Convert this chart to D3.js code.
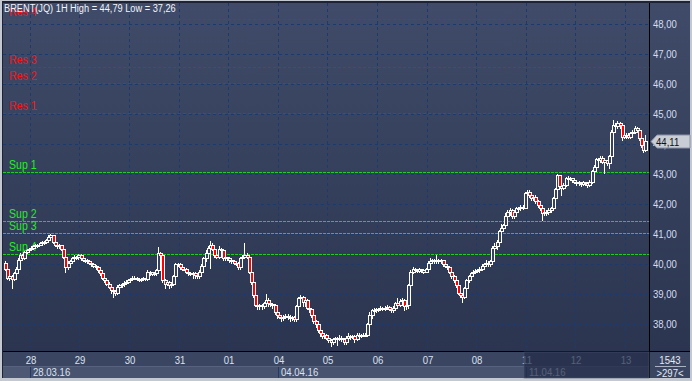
<!DOCTYPE html>
<html><head><meta charset="utf-8">
<script src="https://cdn.jsdelivr.net/npm/d3@7"></script>
<style>html,body{margin:0;padding:0;background:#c4c8d0;overflow:hidden}svg{display:block}</style>
</head><body><svg id="c" width="692" height="381"></svg>
<script>
// ---------------- DATA ----------------
const titleText = "BRENT(JQ) 1H High = 44,79 Low = 37,26";
const dayLabels = ["24","28","29","30","31","01","04","05","06","07","08","11","12","13"];
const barsPerDay = [12,23,23,23,23,23,23,23,23,23,23,23,23,10];
const dateMarks = [{day:"28", text:"28.03.16"}, {day:"04", text:"04.04.16"}, {day:"11", text:"11.04.16"}];
const priceTicks = [38,39,40,41,42,43,44,45,46,47,48];
const resNames = ["Res 1","Res 2","Res 3","Res 4"];
const resValues = [45.02, 46.03, 46.57, 48.18];
const supNames = ["Sup 1","Sup 2","Sup 3","Sup 4"];
const supValues = [43.08, 41.43, 41.03, 40.32];
const lastPrice = 44.11;
const barCountText = "1543";
const visibleText = ">297<";
const firstOpen = 40.05;
const closes = [
 39.85,39.55,39.6,39.5,39.7,39.85,40.15,40.3,40.2,40.4,40.45,40.5,
 40.55,40.6,40.62,40.65,40.7,40.72,40.75,40.8,40.9,40.95,40.75,40.65,40.6,40.62,40.5,40.25,39.9,40.05,40.1,40.2,40.25,40.22,40.3,
 40.2,40.15,40.12,40.1,40.05,40.0,39.95,39.9,39.8,39.7,39.55,39.45,39.35,39.25,39.15,39.1,39.05,39.25,39.3,39.32,39.38,39.4,39.45,
 39.5,39.55,39.55,39.5,39.48,39.5,39.52,39.5,39.75,39.72,39.68,39.7,39.8,40.35,40.3,39.45,39.35,39.4,39.3,39.35,39.6,40.0,40.0,
 39.9,39.85,39.85,39.75,39.7,39.68,39.7,39.65,39.6,39.75,39.95,40.2,40.35,40.55,40.65,40.5,40.3,40.25,40.5,40.45,40.2,40.22,40.2,
 40.12,40.1,40.05,40.05,39.9,40.2,40.25,40.3,40.25,39.75,39.4,38.95,38.65,38.6,38.62,38.6,38.7,38.8,38.7,38.68,38.65,38.4,38.3,
 38.25,38.22,38.25,38.28,38.25,38.2,38.22,38.18,38.6,38.85,38.9,38.75,38.8,38.55,38.5,38.3,38.1,38.0,37.8,37.7,37.6,37.62,37.55,
 37.45,37.4,37.5,37.52,37.5,37.55,37.5,37.4,37.55,37.6,37.58,37.6,37.5,37.62,37.65,37.63,37.65,37.65,38.0,38.3,38.45,38.45,38.5,
 38.5,38.55,38.52,38.55,38.58,38.5,38.45,38.55,38.7,38.65,38.78,38.8,38.6,38.65,39.3,39.75,39.85,39.8,39.78,39.82,39.8,39.75,39.85,
 40.05,40.1,40.12,40.1,40.15,40.1,40.12,40.0,39.95,39.9,39.75,39.6,39.45,39.3,39.05,38.95,38.9,39.2,39.45,39.6,39.7,39.75,39.78,
 39.8,39.85,39.95,40.0,40.05,40.0,40.1,40.55,40.6,40.75,41.1,41.2,41.3,41.6,41.75,41.8,41.6,41.75,41.85,41.85,41.9,41.88,42.35,
 42.4,42.3,42.2,42.25,42.1,41.95,41.85,41.7,41.75,41.72,41.8,41.85,42.2,42.5,42.95,42.6,42.55,42.65,42.85,42.88,42.85,42.8,42.75,
 42.72,42.7,42.68,42.72,42.7,42.65,42.75,43.1,43.25,43.5,43.45,43.55,43.4,43.45,43.35,43.6,44.4,44.65,44.6,44.7,44.65,44.25,44.3,
 44.3,44.25,44.35,44.4,44.55,44.45,44.2,43.95,43.8,44.11
];
const highs = [
 40.1,39.9,39.65,39.65,39.75,39.9,40.2,40.35,40.32,40.42,40.5,40.55,
 40.6,40.64,40.66,40.68,40.74,40.76,40.78,40.85,40.95,41.0,40.98,40.78,40.68,40.66,40.64,40.52,40.28,40.1,40.15,40.24,40.3,40.28,40.33,
 40.33,40.25,40.2,40.16,40.14,40.08,40.04,39.98,39.94,39.84,39.74,39.6,39.5,39.4,39.3,39.2,39.15,39.3,39.35,39.38,39.42,39.45,39.5,
 39.55,39.6,39.6,39.58,39.54,39.54,39.56,39.55,39.8,39.78,39.74,39.75,39.85,40.57,40.4,40.32,39.5,39.45,39.42,39.4,39.65,40.05,40.05,
 40.05,39.95,39.9,39.88,39.8,39.74,39.74,39.74,39.7,39.8,40.0,40.25,40.45,40.6,40.77,40.7,40.55,40.35,40.6,40.55,40.48,40.26,40.25,
 40.25,40.16,40.14,40.1,40.08,40.25,40.3,40.7,40.35,40.28,39.8,39.45,39.0,38.7,38.68,38.66,38.75,39.0,38.85,38.74,38.7,38.68,38.45,
 38.32,38.3,38.3,38.34,38.32,38.3,38.28,38.26,38.65,38.9,38.95,38.92,38.85,38.82,38.58,38.52,38.32,38.15,38.05,37.85,37.75,37.68,37.66,
 37.6,37.5,37.55,37.56,37.56,37.62,37.6,37.55,37.6,37.7,37.65,37.65,37.65,37.7,37.7,37.68,37.7,37.7,38.05,38.4,38.5,38.52,38.55,
 38.55,38.6,38.58,38.6,38.62,38.6,38.55,38.6,38.75,38.85,38.82,38.85,38.82,38.7,39.35,39.8,39.9,39.88,39.84,39.86,39.85,39.82,39.88,
 40.1,40.2,40.18,40.16,40.3,40.18,40.16,40.15,40.05,40.0,39.95,39.8,39.65,39.5,39.35,39.1,39.0,39.25,39.5,39.65,39.75,39.8,39.82,
 39.85,39.9,40.0,40.05,40.12,40.1,40.15,40.6,40.7,40.8,41.15,41.35,41.35,41.7,41.8,41.85,41.82,41.8,41.9,41.9,41.95,41.95,42.4,
 42.45,42.45,42.35,42.3,42.3,42.15,42.0,41.9,41.8,41.8,41.85,41.9,42.25,42.55,43.0,42.98,42.7,42.7,42.9,42.92,42.9,42.86,42.82,
 42.8,42.76,42.75,42.76,42.75,42.75,42.8,43.15,43.3,43.55,43.55,43.6,43.6,43.5,43.48,43.65,44.45,44.79,44.7,44.75,44.72,44.68,44.35,
 44.38,44.35,44.4,44.45,44.6,44.58,44.5,44.25,44.0,44.3
];
const lows = [
 39.8,39.5,39.45,39.2,39.45,39.65,39.8,40.1,40.15,40.18,40.38,40.42,
 40.45,40.5,40.55,40.58,40.62,40.66,40.68,40.72,40.78,40.85,40.7,40.6,40.55,40.55,40.45,40.2,39.75,39.85,40.0,40.05,40.15,40.18,40.18,
 40.15,40.1,40.08,40.05,40.0,39.95,39.9,39.85,39.75,39.65,39.5,39.4,39.3,39.2,39.05,38.9,38.95,39.0,39.2,39.25,39.28,39.34,39.36,
 39.4,39.45,39.5,39.45,39.42,39.44,39.46,39.45,39.48,39.65,39.62,39.64,39.65,39.75,40.2,39.4,39.2,39.3,39.2,39.25,39.3,39.55,39.92,
 39.85,39.8,39.8,39.7,39.65,39.62,39.55,39.55,39.55,39.55,39.7,39.9,40.1,40.3,39.87,40.45,40.25,40.2,40.2,40.4,40.15,40.15,40.15,
 40.08,40.05,40.0,39.98,39.85,39.85,40.15,40.2,40.2,39.7,39.35,38.9,38.6,38.5,38.5,38.5,38.55,38.65,38.6,38.6,38.55,38.35,38.2,
 38.2,38.1,38.15,38.2,38.18,38.1,38.15,38.1,38.1,38.55,38.7,38.6,38.6,38.5,38.4,38.25,38.05,37.9,37.75,37.6,37.55,37.55,37.5,
 37.4,37.26,37.35,37.45,37.3,37.45,37.42,37.32,37.35,37.5,37.5,37.55,37.4,37.45,37.58,37.58,37.6,37.6,37.6,37.9,38.2,38.4,38.4,
 38.42,38.45,38.48,38.48,38.5,38.45,38.4,38.4,38.5,38.6,38.6,38.7,38.45,38.5,38.55,39.25,39.7,39.72,39.74,39.74,39.75,39.7,39.72,
 39.8,40.0,40.05,40.05,40.05,40.05,40.05,39.95,39.9,39.85,39.7,39.55,39.4,39.25,39.0,38.9,38.72,38.85,39.15,39.4,39.55,39.65,39.7,
 39.72,39.75,39.8,39.9,39.95,39.95,39.95,40.05,40.5,40.5,40.7,41.0,41.1,41.25,41.5,41.65,41.55,41.55,41.7,41.8,41.8,41.82,41.85,
 42.3,42.25,42.15,42.15,42.05,41.9,41.8,41.45,41.65,41.65,41.68,41.75,41.8,42.1,42.45,42.55,42.3,42.5,42.6,42.8,42.8,42.75,42.7,
 42.65,42.62,42.6,42.62,42.65,42.58,42.6,42.7,43.0,43.2,43.38,43.4,43.35,43.05,43.3,43.2,43.55,44.3,44.5,44.55,44.55,44.15,44.2,
 44.2,44.2,44.2,44.3,44.35,44.4,44.15,43.9,43.75,43.78
];

// ---------------- LAYOUT ----------------
const W = 692, H = 381;
const PL = 3, PR = 649, PT = 3, PB = 351;
const nBars = closes.length;
const svg = d3.select("#c");
const font = "'Liberation Sans', Arial, sans-serif";

const x = d3.scaleLinear().domain([0, nBars]).range([4, 646.5]);
const y = d3.scaleLinear().domain([37.1, 48]).range([351, 24]);

const dayStarts = [];
{ let s = 0; barsPerDay.forEach(n => { dayStarts.push(s); s += n; }); }

const defs = svg.append("defs");
const g1 = defs.append("linearGradient").attr("id","bg").attr("x1",0).attr("x2",0).attr("y1",0).attr("y2",1);
g1.append("stop").attr("offset","0%").attr("stop-color","#3f4b68");
g1.append("stop").attr("offset","100%").attr("stop-color","#2b3550");
defs.append("clipPath").attr("id","plotclip").append("rect")
  .attr("x",PL).attr("y",PT).attr("width",PR-PL).attr("height",PB-PT);

// frame
svg.append("rect").attr("x",0).attr("y",0).attr("width",W).attr("height",H).attr("fill","#c4c8d0");
svg.append("rect").attr("x",2).attr("y",1).attr("width",W-4).attr("height",H-4).attr("fill","#1e2436");
// plot + right axis backgrounds
svg.append("rect").attr("x",PL).attr("y",PT).attr("width",PR-PL).attr("height",PB-PT).attr("fill","url(#bg)");
svg.append("rect").attr("x",PR+1).attr("y",PT).attr("width",690-PR-1).attr("height",PB-PT).attr("fill","url(#bg)");
// bottom rows
svg.append("rect").attr("x",PL).attr("y",PB+1).attr("width",PR-PL).attr("height",15).attr("fill","#3a4561");
svg.append("rect").attr("x",PL).attr("y",367).attr("width",PR-PL).attr("height",11).attr("fill","#48536f");
svg.append("line").attr("x1",PL).attr("x2",PR).attr("y1",366.5).attr("y2",366.5).attr("stroke","#56627e");
svg.append("rect").attr("x",PL).attr("y",367).attr("width",x(dayStarts[1])-PL).attr("height",11).attr("fill","#4d5875");
svg.append("rect").attr("x",PR+1).attr("y",PB+1).attr("width",690-PR-1).attr("height",26).attr("fill","#3a4561");

// grid
const grid = svg.append("g").attr("clip-path","url(#plotclip)");
grid.selectAll("line.h").data(priceTicks).join("line")
  .attr("x1",PL).attr("x2",PR).attr("y1",d=>Math.round(y(d))+0.5).attr("y2",d=>Math.round(y(d))+0.5)
  .attr("stroke","#1c3a6c").attr("stroke-dasharray","3,3");
grid.selectAll("line.v").data(dayStarts.slice(1)).join("line")
  .attr("x1",d=>Math.round(x(d))+0.5).attr("x2",d=>Math.round(x(d))+0.5).attr("y1",PT).attr("y2",PB)
  .attr("stroke","#1c3a6c").attr("stroke-dasharray","3,3");

// support / resistance
function levels(names, vals, lineCol, textCol, dash){
  const g = svg.append("g");
  vals.forEach((v,i)=>{
    const yy = Math.round(y(v))+0.5;
    g.append("line").attr("x1",PL).attr("x2",PR).attr("y1",yy).attr("y2",yy)
      .attr("stroke",lineCol).attr("stroke-dasharray",dash);
    g.append("text").attr("transform",`translate(9,${yy-4}) scale(0.88,1)`)
      .attr("font-family",font).attr("font-size",12).attr("fill",textCol).text(names[i]);
  });
}
levels(resNames, resValues, "#c8142c", "#ff1010", "3,2");
levels(supNames, supValues, "#22cc22", "#22ee22", "3,1");

// candles
const bars = closes.map((c,i)=>{
  const o = i===0 ? firstOpen : closes[i-1];
  return {i, o, c, h: Math.max(highs[i],o,c), l: Math.min(lows[i],o,c)};
});
const cg = svg.append("g").attr("clip-path","url(#plotclip)");
bars.forEach(b=>{
  const xc = Math.round(x(b.i+0.5));
  const yh = Math.round(y(b.h)), yl = Math.round(y(b.l));
  const top = Math.round(y(Math.max(b.o,b.c))), bot = Math.round(y(Math.min(b.o,b.c)));
  const hgt = Math.max(bot-top+1, 2);
  cg.append("rect").attr("x",xc).attr("y",yh).attr("width",1).attr("height",Math.max(yl-yh+1,1)).attr("fill","#fff");
  cg.append("rect").attr("x",xc-1).attr("y",top).attr("width",4).attr("height",hgt).attr("fill","#fff");
  if (hgt > 2) {
    cg.append("rect").attr("x",xc).attr("y",top+1).attr("width",2).attr("height",hgt-2)
      .attr("fill", b.c < b.o ? "#ff0000" : "#35415e");
  }
});

// title
svg.append("text").attr("transform","translate(4,12) scale(0.84,1)")
  .attr("font-family",font).attr("font-size",11).attr("fill","#f2f5fb").text(titleText);

// separator lines
svg.append("line").attr("x1",PL).attr("x2",690).attr("y1",PB+0.5).attr("y2",PB+0.5).attr("stroke","#000");
svg.append("line").attr("x1",PR+0.5).attr("x2",PR+0.5).attr("y1",PT).attr("y2",378).attr("stroke","#000");

// right axis
const fmt = d => d3.format(".2f")(d).replace(".",",");
const ra = svg.append("g").attr("transform",`translate(${PR+1},0)`)
  .call(d3.axisRight(y).tickValues(priceTicks).tickSize(0).tickFormat(fmt));
ra.select(".domain").remove();
ra.selectAll("text").attr("x",3/0.87).attr("dy","0.36em").attr("transform","scale(0.87,1)")
  .attr("font-family",font).attr("font-size",11).attr("fill","#d4dcec");

// bottom axis (day labels)
const ba = svg.append("g").attr("transform",`translate(0,${PB+1})`)
  .call(d3.axisBottom(x).tickValues(dayStarts.slice(1)).tickSize(0)
    .tickFormat(d => dayLabels[dayStarts.indexOf(d)]));
ba.select(".domain").remove();
ba.selectAll("text").attr("y",12).attr("dy",0).attr("transform","scale(0.87,1)")
  .attr("x",0).attr("font-family",font).attr("font-size",11).attr("fill","#dbe2f0");
ba.selectAll(".tick").attr("transform", d => `translate(${Math.round(x(d))+1},0)`);

// date marks
dateMarks.forEach(m=>{
  const xs = Math.round(x(dayStarts[dayLabels.indexOf(m.day)]));
  svg.append("line").attr("x1",xs+0.5).attr("x2",xs+0.5).attr("y1",367).attr("y2",378).attr("stroke","#243a66");
  svg.append("text").attr("transform",`translate(${xs+3},376) scale(0.87,1)`)
    .attr("font-family",font).attr("font-size",11).attr("fill","#dbe2f0").text(m.text);
});

// dark overlay on last section of time axis
const ox = Math.round(x(dayStarts[dayLabels.indexOf("11")])) - 2;
svg.append("rect").attr("x",ox).attr("y",PB+1).attr("width",PR-ox).attr("height",26)
  .attr("fill","#222c48").attr("fill-opacity",0.72).attr("stroke","#4a5570").attr("stroke-width",0.6);

// bottom-right info box
svg.append("text").attr("transform","translate(670,364) scale(0.87,1)").attr("text-anchor","middle")
  .attr("font-family",font).attr("font-size",11).attr("fill","#e4e9f3").text(barCountText);
svg.append("line").attr("x1",655).attr("x2",686).attr("y1",366.5).attr("y2",366.5).attr("stroke","#aab2c4");
svg.append("text").attr("transform","translate(670,377) scale(0.87,1)").attr("text-anchor","middle")
  .attr("font-family",font).attr("font-size",11).attr("fill","#e4e9f3").text(visibleText);

// last price tag
const yp = Math.round(y(lastPrice)) + 0.5;
svg.append("polygon")
  .attr("points",`651,${yp} 657,${yp-6.5} 690,${yp-6.5} 690,${yp+6.5} 657,${yp+6.5}`)
  .attr("fill","#c9cdd5").attr("stroke","#8a92a6");
svg.append("text").attr("transform",`translate(656,${yp+4}) scale(0.87,1)`)
  .attr("font-family",font).attr("font-size",11).attr("fill","#101010").text(fmt(lastPrice));
</script></body></html>
